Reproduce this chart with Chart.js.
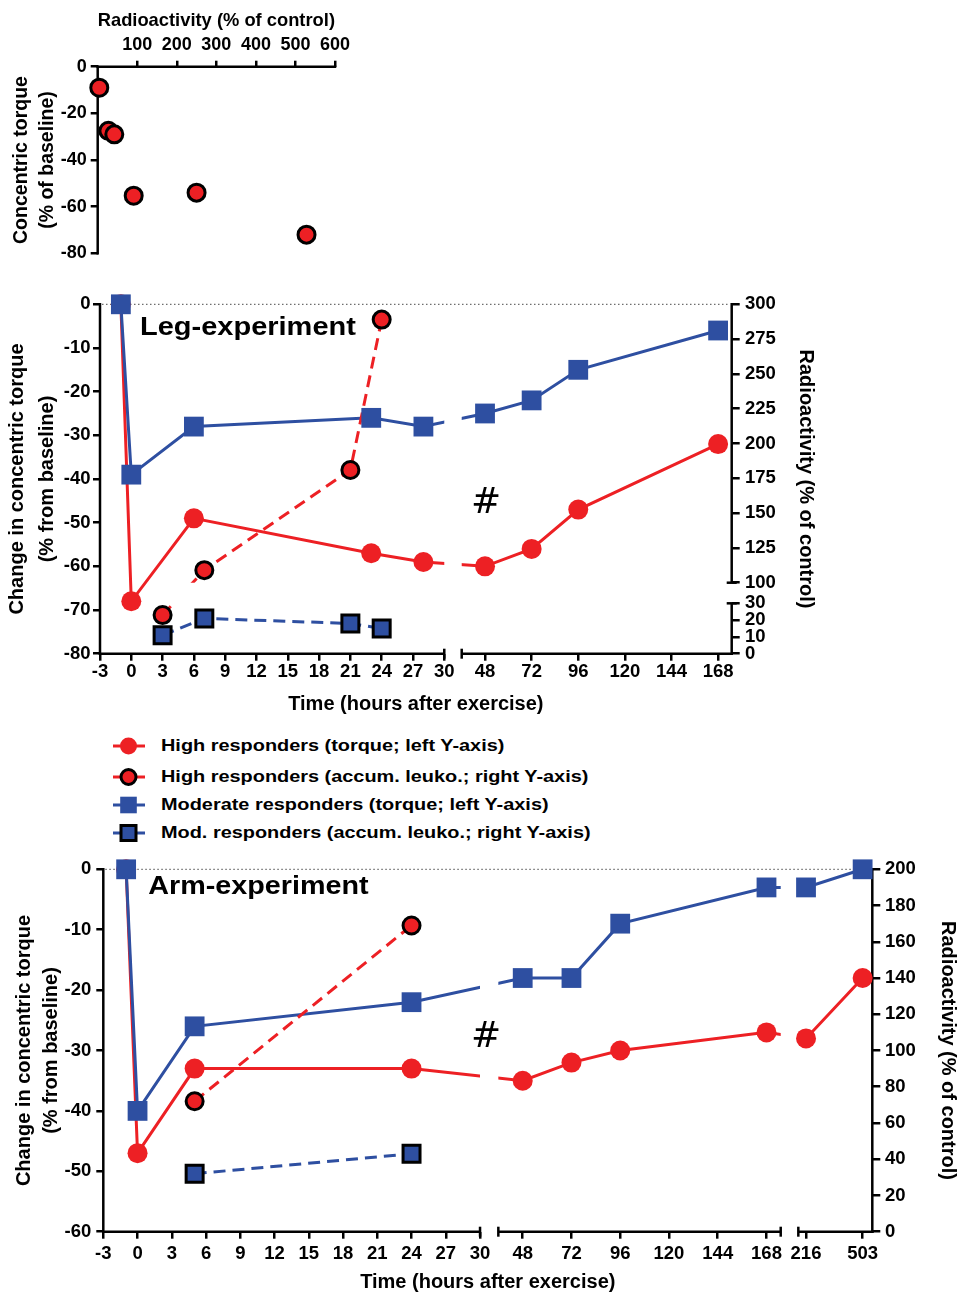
<!DOCTYPE html>
<html>
<head>
<meta charset="utf-8">
<title>Concentric torque and radioactivity</title>
<script src="https://cdn.jsdelivr.net/npm/chart.js@4.4.1/dist/chart.umd.min.js"></script>
<style>
  html, body { margin:0; padding:0; background:#fff; }
  body { width:957px; height:1294px; position:relative; overflow:hidden; }
  canvas { position:absolute; left:0; }
  #top { top:0; }
  #leg { top:280px; }
  #arm { top:850px; }
  .key { position:absolute; left:0; width:957px; height:20px; }
  .key svg { position:absolute; left:106px; top:-2px; }
  .key span { position:absolute; left:160.5px; top:0; font:bold 17px "Liberation Sans", Arial, sans-serif;
              line-height:20px; white-space:nowrap; transform:scaleX(1.17); transform-origin:0 50%; color:#000; }
</style>
</head>
<body>
<canvas id="top" width="957" height="280"></canvas>
<canvas id="leg" width="957" height="440"></canvas>
<div id="keys"></div>
<canvas id="arm" width="957" height="444"></canvas>
<script>
// ---------------- DATA ----------------
// Top panel: radioactivity vs concentric torque
const scatterRadio  = [4, 27, 42, 91, 250, 528];
const scatterTorque = [-9, -27.5, -29, -55.3, -54, -72];
const scatterXTicks = [100, 200, 300, 400, 500, 600];
const scatterYTicks = [0, -20, -40, -60, -80];

// Leg experiment
const legTime        = [-1, 0, 6, 23, 28, 48, 72, 96, 168];
const legHighTorque  = [0, -68, -49, -57, -59, -60, -56, -47, -32];
const legModTorque   = [0, -39, -28, -26, -28, -25, -22, -15, -6];
const legLeukoTime   = [3, 7, 21, 24];
const legHighLeuko   = [23, 109, 181, 289];
const legModLeuko    = [11, 21, 18, 15];
const legXTicks  = [-3, 0, 3, 6, 9, 12, 15, 18, 21, 24, 27, 30, 48, 72, 96, 120, 144, 168];
const legYTicks  = [0, -10, -20, -30, -40, -50, -60, -70, -80];
const legY2Ticks = [0, 10, 20, 30, 100, 125, 150, 175, 200, 225, 250, 275, 300];

// Arm experiment
const armTime        = [-1, 0, 5, 24, 48, 72, 96, 168, 216, 503];
const armHighTorque  = [0, -47, -33, -33, -35, -32, -30, -27, -28, -18];
const armModTorque   = [0, -40, -26, -22, -18, -18, -9, -3, -3, 0];
const armLeukoTime   = [5, 24];
const armHighLeuko   = [72, 169];
const armModLeuko    = [32, 43];
const armXTicks  = [-3, 0, 3, 6, 9, 12, 15, 18, 21, 24, 27, 30, 48, 72, 96, 120, 144, 168, 216, 503];
const armYTicks  = [0, -10, -20, -30, -40, -50, -60];
const armY2Ticks = [0, 20, 40, 60, 80, 100, 120, 140, 160, 180, 200];

const legendLabels = [
  'High responders (torque; left Y-axis)',
  'High responders (accum. leuko.; right Y-axis)',
  'Moderate responders (torque; left Y-axis)',
  'Mod. responders (accum. leuko.; right Y-axis)'
];

// ---------------- STYLE ----------------
const RED = '#ED2024', BLUE = '#2E4FA1';
const FONT = '"Liberation Sans", Arial, sans-serif';
Chart.defaults.font.family = FONT;
Chart.defaults.color = '#000';

// ---------------- BROKEN LINEAR SCALE ----------------
class BrokenScale extends Chart.LinearScale {
  configure() {
    super.configure();
    const segs = this.options.segments;
    this._segs = (segs && segs.length) ? segs.map(s => [s[0], s[1], s[2], s[3]]) : [[this.min, this.max, 0, 1]];
  }
  _dec(v) {
    const s = this._segs;
    for (let i = 0; i < s.length; i++) {
      const [a, b, d0, d1] = s[i];
      if (v <= b || i === s.length - 1) {
        if (v < a && i > 0) {
          const p = s[i - 1];
          return p[3] + (v - p[1]) / (a - p[1]) * (d0 - p[3]);
        }
        return d0 + (v - a) / (b - a) * (d1 - d0);
      }
    }
    return 0;
  }
  getPixelForValue(v) {
    if (v === null || v === undefined || isNaN(v)) return NaN;
    if (!this._segs) return super.getPixelForValue(v);
    return this.getPixelForDecimal(this._dec(v));
  }
  getValueForPixel(px) {
    const d = this.getDecimalForPixel(px);
    const s = this._segs;
    for (const [a, b, d0, d1] of s) {
      if (d <= d1) return a + (d - d0) / (d1 - d0) * (b - a);
    }
    const l = s[s.length - 1];
    return l[0] + (d - l[2]) / (l[3] - l[2]) * (l[1] - l[0]);
  }
}
BrokenScale.id = 'broken';
BrokenScale.defaults = {};
Chart.register(BrokenScale);

// mask lines where they cross an axis break
const gapPlugin = {
  id: 'gapMask',
  beforeDatasetDraw(chart, args) {
    const ds = chart.data.datasets[args.index];
    const ctx = chart.ctx;
    ctx.save();
    if (!ds.gapMask) return;
    const rects = [];
    const scales = [chart.scales[ds.xAxisID || 'x'], chart.scales[ds.yAxisID || 'y']];
    scales.forEach(s => {
      if (!s || !s._segs) return;
      const g = s._segs;
      for (let i = 1; i < g.length; i++) {
        const p = s.getPixelForDecimal(g[i - 1][3]), q = s.getPixelForDecimal(g[i][2]);
        if (s.isHorizontal()) rects.push([Math.min(p, q), 0, Math.abs(q - p), chart.height]);
        else rects.push([0, Math.min(p, q), chart.width, Math.abs(q - p)]);
      }
    });
    if (rects.length) {
      ctx.beginPath();
      ctx.rect(0, 0, chart.width, chart.height);
      rects.forEach(r => ctx.rect(r[0], r[1], r[2], r[3]));
      ctx.clip('evenodd');
    }
  },
  afterDatasetDraw(chart) { chart.ctx.restore(); }
};
Chart.register(gapPlugin);

// axis lines with break caps + dotted zero line
function axesPlugin(cfg) {
  return {
    id: 'axesLines',
    beforeDatasetsDraw(chart) {
      const ctx = chart.ctx, a = chart.chartArea;
      ctx.save();
      if (cfg.zeroLine) {
        const y = chart.scales.y.getPixelForValue(0);
        ctx.strokeStyle = '#6e6e6e'; ctx.lineWidth = 1.2; ctx.setLineDash([1.5, 2.5]);
        ctx.beginPath(); ctx.moveTo(a.left + 2, y); ctx.lineTo(a.right - 2, y); ctx.stroke();
        ctx.setLineDash([]);
      }
      ctx.strokeStyle = '#000'; ctx.lineWidth = 2.5; ctx.lineCap = 'butt';
      Object.values(chart.scales).forEach(s => {
        const segs = s._segs; if (!segs) return;
        const horiz = s.isHorizontal();
        const c = horiz ? (s.position === 'top' ? a.top : a.bottom) : (s.position === 'left' ? a.left : a.right);
        const eMin = horiz ? a.left : a.top, eMax = horiz ? a.right : a.bottom;
        segs.forEach((g, i) => {
          const p0 = s.getPixelForDecimal(g[2]), p1 = s.getPixelForDecimal(g[3]);
          let lo = Math.min(p0, p1), hi = Math.max(p0, p1);
          if (Math.abs(lo - eMin) < 1) lo -= 1.25;
          if (Math.abs(hi - eMax) < 1) hi += 1.25;
          ctx.beginPath();
          if (horiz) { ctx.moveTo(lo, c); ctx.lineTo(hi, c); } else { ctx.moveTo(c, lo); ctx.lineTo(c, hi); }
          ctx.stroke();
          const caps = [];
          if (i > 0) caps.push(p0);
          if (i < segs.length - 1) caps.push(p1);
          caps.forEach(p => {
            ctx.beginPath();
            if (horiz) { ctx.moveTo(p, c - 5); ctx.lineTo(p, c + 5); } else { ctx.moveTo(c - 5, p); ctx.lineTo(c + 5, p); }
            ctx.stroke();
          });
        });
      });
      ctx.restore();
    }
  };
}

function notesPlugin(items) {
  return {
    id: 'notes',
    afterDatasetsDraw(chart) {
      const ctx = chart.ctx;
      items.forEach(n => {
        ctx.save();
        ctx.font = n.f; ctx.fillStyle = '#000';
        ctx.textAlign = n.align || 'left'; ctx.textBaseline = 'alphabetic';
        ctx.translate(n.x, n.y); ctx.scale(n.sx || 1, 1);
        ctx.fillText(n.text, 0, 0);
        ctx.restore();
      });
    }
  };
}

function makeAxis(o) {
  return {
    type: 'broken', position: o.pos, min: o.min, max: o.max, segments: o.segs,
    afterBuildTicks: s => { s.ticks = o.ticks.map(v => ({ value: v })); },
    afterFit: s => { if (s.isHorizontal()) s.height = o.size; else s.width = o.size; },
    border: { display: false },
    grid: { display: true, drawOnChartArea: false, drawTicks: true, tickLength: o.tl,
            color: '#000', lineWidth: 2.5, tickColor: '#000', tickWidth: 2.5 },
    ticks: { autoSkip: false, maxRotation: 0, minRotation: 0, padding: o.tp, color: '#000',
             font: { family: FONT, size: o.fs, weight: 'bold' }, callback: v => String(v) },
    title: { display: true, text: o.title, color: '#000',
             font: { family: FONT, size: o.ts, weight: 'bold', lineHeight: o.lh },
             padding: { top: o.tpad, bottom: o.tpad } }
  };
}

function series(xs, ys, o) {
  const data = xs.map((x, i) => ({ x: x, y: ys[i] }));
  return [
    { data: data, yAxisID: o.axis, borderColor: o.color, borderWidth: 3, borderDash: o.dash ? [12, 7] : [],
      pointRadius: 0, pointHitRadius: 0, showLine: true, tension: 0, gapMask: true, order: o.order + 10, clip: false },
    { data: data, yAxisID: o.axis, showLine: false, pointStyle: o.shape, pointRadius: o.r,
      pointBackgroundColor: o.color, pointBorderColor: o.edge ? '#000' : o.color,
      pointBorderWidth: o.edge ? 3 : 0, order: o.order, clip: false }
  ];
}

const common = {
  responsive: false, animation: false, events: [],
  plugins: { legend: { display: false }, tooltip: { enabled: false } }
};

// ---------------- TOP PANEL ----------------
new Chart(document.getElementById('top'), {
  type: 'scatter',
  data: { datasets: [{
    data: scatterRadio.map((x, i) => ({ x: x, y: scatterTorque[i] })),
    pointRadius: 8.5, pointBackgroundColor: RED, pointBorderColor: '#000', pointBorderWidth: 3, clip: false
  }] },
  options: Object.assign({}, common, {
    layout: { padding: { left: 0, top: 0, right: 622, bottom: 26.7 } },
    scales: {
      x: makeAxis({ pos: 'top', min: 0, max: 600, ticks: scatterXTicks, size: 66.7, tl: 6, tp: 4.7, fs: 18,
                    title: 'Radioactivity (% of control)', ts: 19, lh: 1.2, tpad: 8.9 }),
      y: makeAxis({ pos: 'left', min: -80, max: 0, ticks: scatterYTicks, size: 97.7, tl: 7, tp: 4, fs: 18,
                    title: ['Concentric torque', '(% of baseline)'], ts: 19.5, lh: 26 / 19.5, tpad: 9 })
    }
  }),
  plugins: [axesPlugin({})]
});

// ---------------- LEG PANEL ----------------
new Chart(document.getElementById('leg'), {
  type: 'line',
  data: { datasets: [
    ...series(legLeukoTime, legHighLeuko, { axis: 'y2', color: RED, shape: 'circle', r: 8.5, edge: true, dash: true, order: 0 }),
    ...series(legLeukoTime, legModLeuko, { axis: 'y2', color: BLUE, shape: 'rect', r: 12, edge: true, dash: true, order: 1 }),
    ...series(legTime, legModTorque, { axis: 'y', color: BLUE, shape: 'rect', r: 14, order: 2 }),
    ...series(legTime, legHighTorque, { axis: 'y', color: RED, shape: 'circle', r: 10, order: 3 })
  ] },
  options: Object.assign({}, common, {
    layout: { padding: { left: 0, top: 24.3, right: 130.3, bottom: 0 } },
    scales: {
      x: makeAxis({ pos: 'bottom', min: -3, max: 175, segs: [[-3, 30, 0, 0.5450], [36, 175, 0.5726, 1]],
                    ticks: legXTicks, size: 66.3, tl: 7, tp: 0.5, fs: 18.5,
                    title: 'Time (hours after exercise)', ts: 20, lh: 1.2, tpad: 3.8 }),
      y: makeAxis({ pos: 'left', min: -80, max: 0, ticks: legYTicks, size: 100, tl: 7, tp: 2.5, fs: 18.5,
                    title: ['Change in concentric torque', '(% from baseline)'], ts: 20, lh: 1.5, tpad: 2.5 }),
      y2: makeAxis({ pos: 'right', min: 0, max: 300, segs: [[0, 30, 0, 0.1442], [100, 300, 0.2032, 1]],
                     ticks: legY2Ticks, size: 95, tl: 8, tp: 5.3, fs: 18.5,
                     title: 'Radioactivity (% of control)', ts: 20, lh: 1.2, tpad: 8.7 })
    }
  }),
  plugins: [axesPlugin({ zeroLine: true }), notesPlugin([
    { text: 'Leg-experiment', x: 140, y: 55, f: 'bold 26px ' + FONT, sx: 1.115 },
    { text: '#', x: 486, y: 233.3, f: '36px "DejaVu Sans"', align: 'center' }
  ])]
});

// ---------------- LEGEND ----------------
(function () {
  const rowY = [745.7, 777.3, 805, 833.3];
  const marks = [
    '<circle cx="22.5" cy="12" r="8.5" fill="' + RED + '"/>',
    '<circle cx="22.5" cy="12" r="7.5" fill="' + RED + '" stroke="#000" stroke-width="3"/>',
    '<rect x="14.2" y="3.7" width="16.6" height="16.6" fill="' + BLUE + '"/>',
    '<rect x="15" y="4.5" width="15" height="15" fill="' + BLUE + '" stroke="#000" stroke-width="3"/>'
  ];
  const cols = [RED, RED, BLUE, BLUE];
  const host = document.getElementById('keys');
  legendLabels.forEach((t, i) => {
    const d = document.createElement('div');
    d.className = 'key';
    d.style.top = (rowY[i] - 10) + 'px';
    d.innerHTML = '<svg width="44" height="24" viewBox="0 0 44 24"><line x1="7" y1="12" x2="39" y2="12" stroke="' +
      cols[i] + '" stroke-width="3"/>' + marks[i] + '</svg>';
    const s = document.createElement('span');
    s.textContent = t;
    d.appendChild(s);
    host.appendChild(d);
  });
})();

// ---------------- ARM PANEL ----------------
new Chart(document.getElementById('arm'), {
  type: 'line',
  data: { datasets: [
    ...series(armLeukoTime, armHighLeuko, { axis: 'y2', color: RED, shape: 'circle', r: 8.5, edge: true, dash: true, order: 0 }),
    ...series(armLeukoTime, armModLeuko, { axis: 'y2', color: BLUE, shape: 'rect', r: 12, edge: true, dash: true, order: 1 }),
    ...series(armTime, armModTorque, { axis: 'y', color: BLUE, shape: 'rect', r: 14, order: 2 }),
    ...series(armTime, armHighTorque, { axis: 'y', color: RED, shape: 'circle', r: 10, order: 3 })
  ] },
  options: Object.assign({}, common, {
    layout: { padding: { left: 0, top: 19.3, right: 0, bottom: 0 } },
    scales: {
      x: makeAxis({ pos: 'bottom', min: -3, max: 552,
                    segs: [[-3, 30, 0, 0.4899], [36, 175, 0.5137, 0.8809], [177, 552, 0.9038, 1]],
                    ticks: armXTicks, size: 62.3, tl: 7, tp: 4, fs: 18.5,
                    title: 'Time (hours after exercise)', ts: 20, lh: 1, tpad: 1.5 }),
      y: makeAxis({ pos: 'left', min: -60, max: 0, ticks: armYTicks, size: 103.3, tl: 7, tp: 5, fs: 18.5,
                    title: ['Change in concentric torque', '(% from baseline)'], ts: 20, lh: 1.35, tpad: 10.8 }),
      y2: makeAxis({ pos: 'right', min: 0, max: 200, ticks: armY2Ticks, size: 84.7, tl: 8, tp: 4.7, fs: 18.5,
                     title: 'Radioactivity (% of control)', ts: 20, lh: 0.5, tpad: 4.2 })
    }
  }),
  plugins: [axesPlugin({ zeroLine: true }), notesPlugin([
    { text: 'Arm-experiment', x: 148.3, y: 44, f: 'bold 26px ' + FONT, sx: 1.105 },
    { text: '#', x: 486, y: 196.7, f: '36px "DejaVu Sans"', align: 'center' }
  ])]
});
</script>
</body>
</html>
